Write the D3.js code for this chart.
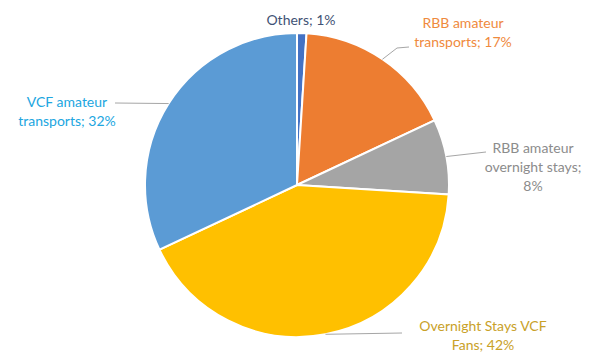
<!DOCTYPE html>
<html>
<head>
<meta charset="utf-8">
<script src="https://cdn.jsdelivr.net/npm/d3@7"></script>
<style>
  html, body { margin: 0; padding: 0; background: #fff; }
  svg { display: block; }
  .lbl { font-family: Lato, "Open Sans", sans-serif; font-size: 14px; }
</style>
</head>
<body>
<svg id="chart" width="597" height="354"></svg>
<script>
/* Pie chart: share of transport / overnight stays */

const categories = ['Others', 'RBB amateur transports', 'RBB amateur overnight stays', 'Overnight Stays VCF Fans', 'VCF amateur transports'];
const values = [1, 17, 8, 42, 32];
const labelLines = [
  ['Others; 1%'],
  ['RBB amateur', 'transports; 17%'],
  ['RBB amateur', 'overnight stays;', '8%'],
  ['Overnight Stays VCF', 'Fans; 42%'],
  ['VCF amateur', 'transports; 32%']
];

const SLICE_COLORS = ['#4472c4', '#ed7d31', '#a5a5a5', '#ffc000', '#5b9bd5'];
const TEXT_COLORS = ['#3f5275', '#ef8a3d', '#8c8c8c', '#c9a128', '#21a6df'];

// label layout: center x, first baseline, leader end point (null = no leader)
const LABEL_POS = [
  { x: 301, y: 25, end: null },
  { x: 463, y: 28, end: [[397, 48], [409, 47]] },
  { x: 533, y: 153, end: [[486, 152]] },
  { x: 483, y: 331, end: [[402, 333]] },
  { x: 67, y: 107, end: [[115, 103]] }
];

const cx = 297, cy = 185, radius = 152;
const svg = d3.select('#chart');
const g = svg.append('g').attr('transform', `translate(${cx},${cy})`);

const data = categories.map((c, i) => ({ name: c, value: values[i], i }));
const pie = d3.pie().value(d => d.value).sort(null);
const arcs = pie(data);
const arc = d3.arc().innerRadius(0).outerRadius(radius);

g.selectAll('path.slice')
  .data(arcs)
  .join('path')
  .attr('class', 'slice')
  .attr('d', arc)
  .attr('fill', d => SLICE_COLORS[d.data.i])
  .attr('stroke', '#fff')
  .attr('stroke-width', 2);

// Leader lines from slice mid-angle on the rim
arcs.forEach(d => {
  const pos = LABEL_POS[d.data.i];
  if (!pos.end) return;
  const mid = (d.startAngle + d.endAngle) / 2;
  const start = [cx + Math.sin(mid) * radius, cy - Math.cos(mid) * radius];
  const pts = [start, ...pos.end];
  svg.append('path')
    .attr('d', d3.line()(pts))
    .attr('fill', 'none')
    .attr('stroke', '#a6a6a6')
    .attr('stroke-width', 1);
});

// Labels
arcs.forEach(d => {
  const pos = LABEL_POS[d.data.i];
  const t = svg.append('text')
    .attr('class', 'lbl')
    .attr('text-anchor', 'middle')
    .attr('fill', TEXT_COLORS[d.data.i]);
  labelLines[d.data.i].forEach((line, k) => {
    t.append('tspan')
      .attr('x', pos.x)
      .attr('y', pos.y + k * 19)
      .text(line);
  });
});
</script>
</body>
</html>
